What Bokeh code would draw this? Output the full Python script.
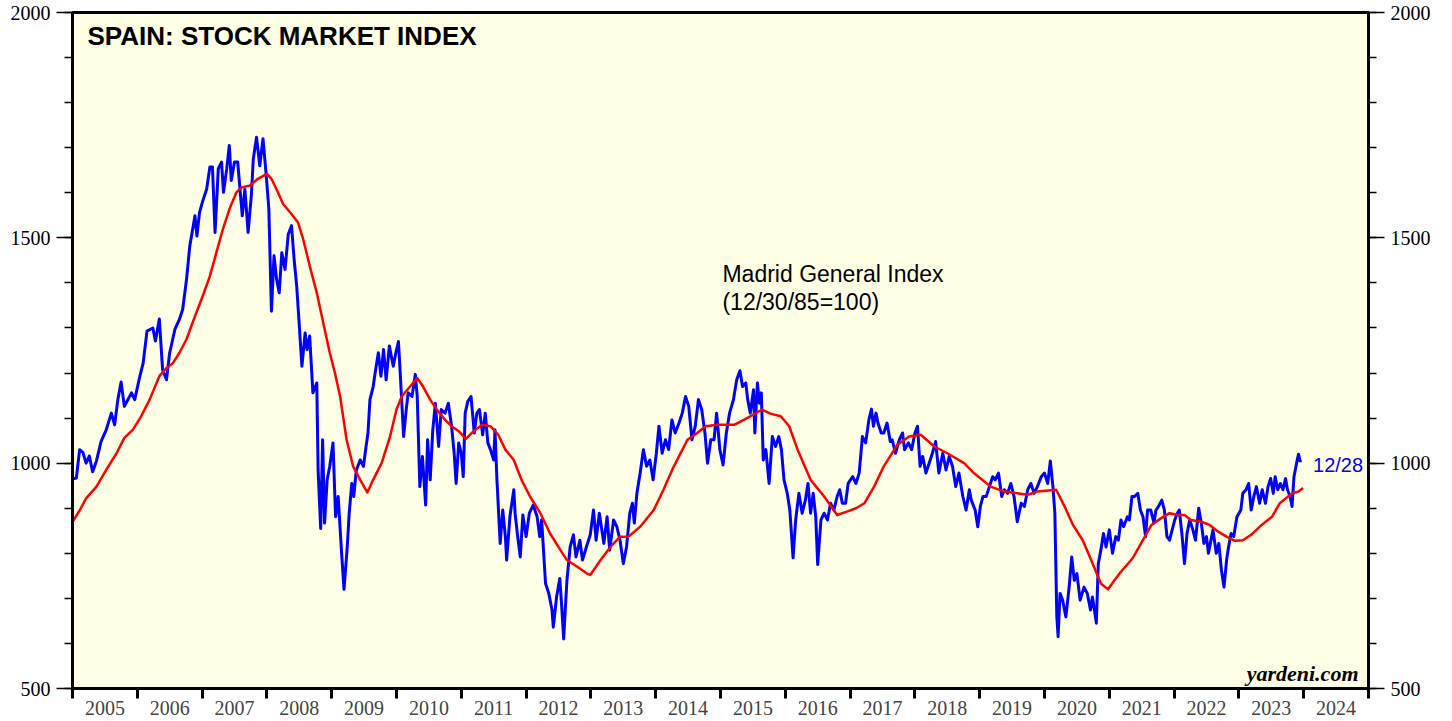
from bokeh.plotting import figure
from bokeh.models import (Range1d, LinearAxis, FixedTicker, Label, CustomJSTickFormatter,
                          ColumnDataSource)
from bokeh.embed import file_html
from bokeh.resources import INLINE

# ---------------- data ----------------
blue_years = [
 2005.00,2005.06,2005.11,2005.16,2005.21,2005.26,2005.31,2005.37,2005.44,2005.52,2005.60,2005.65,2005.70,2005.75,2005.80,2005.91,2005.96,
 2006.04,2006.09,2006.15,2006.24,2006.28,2006.34,2006.39,2006.45,2006.50,2006.58,2006.65,2006.70,2006.76,2006.81,2006.89,2006.92,2006.96,
 2007.01,2007.07,2007.12,2007.16,2007.20,2007.25,2007.30,2007.33,2007.38,2007.42,2007.45,2007.50,2007.55,2007.58,2007.62,2007.66,2007.71,2007.76,2007.79,2007.84,2007.89,2007.94,2007.99,
 2008.03,2008.07,2008.11,2008.15,2008.19,2008.23,2008.28,2008.33,2008.38,2008.42,2008.46,2008.50,2008.54,2008.59,2008.62,2008.66,2008.71,2008.77,2008.79,2008.83,2008.86,2008.89,2008.93,2008.97,
 2009.02,2009.06,2009.10,2009.15,2009.19,2009.24,2009.27,2009.31,2009.34,2009.38,2009.44,2009.49,2009.53,2009.56,2009.59,2009.64,2009.67,2009.72,2009.76,2009.80,2009.84,2009.89,2009.95,2009.99,
 2010.03,2010.06,2010.11,2010.15,2010.18,2010.24,2010.29,2010.32,2010.36,2010.40,2010.45,2010.48,2010.52,2010.56,2010.60,2010.65,2010.69,2010.75,2010.80,2010.85,2010.89,2010.92,2010.96,
 2011.00,2011.03,2011.06,2011.10,2011.15,2011.20,2011.24,2011.28,2011.33,2011.37,2011.41,2011.45,2011.50,2011.52,2011.55,2011.60,2011.64,2011.68,2011.70,2011.75,2011.81,2011.83,2011.87,2011.91,2011.95,
 2012.00,2012.05,2012.11,2012.17,2012.21,2012.24,2012.30,2012.35,2012.40,2012.42,2012.47,2012.52,2012.55,2012.58,2012.63,2012.68,2012.73,2012.77,2012.83,2012.87,2012.93,2012.99,
 2013.04,2013.08,2013.13,2013.20,2013.25,2013.29,2013.35,2013.40,2013.45,2013.50,2013.55,2013.60,2013.64,2013.67,2013.71,2013.76,2013.81,2013.86,2013.91,2013.96,
 2014.01,2014.05,2014.10,2014.15,2014.20,2014.25,2014.30,2014.36,2014.41,2014.46,2014.51,2014.56,2014.61,2014.66,2014.71,2014.76,2014.80,2014.85,2014.90,2014.94,2014.99,
 2015.04,2015.09,2015.14,2015.20,2015.25,2015.30,2015.34,2015.39,2015.42,2015.46,2015.51,2015.53,2015.57,2015.60,2015.63,2015.66,2015.70,2015.75,2015.80,2015.85,2015.90,2015.94,2015.98,
 2016.03,2016.07,2016.12,2016.16,2016.21,2016.26,2016.31,2016.35,2016.39,2016.43,2016.47,2016.50,2016.55,2016.60,2016.65,2016.70,2016.75,2016.80,2016.84,2016.88,2016.93,2016.97,
 2017.04,2017.09,2017.14,2017.19,2017.24,2017.29,2017.33,2017.36,2017.40,2017.43,2017.48,2017.52,2017.57,2017.62,2017.65,2017.70,2017.76,2017.81,2017.84,2017.90,2017.95,
 2018.00,2018.04,2018.08,2018.12,2018.17,2018.22,2018.27,2018.32,2018.37,2018.43,2018.48,2018.53,2018.58,2018.63,2018.68,2018.74,2018.79,2018.84,2018.87,2018.93,2018.97,
 2019.01,2019.05,2019.10,2019.15,2019.20,2019.24,2019.29,2019.34,2019.38,2019.43,2019.48,2019.53,2019.58,2019.64,2019.69,2019.74,2019.79,2019.84,2019.89,2019.95,
 2020.00,2020.05,2020.09,2020.13,2020.16,2020.19,2020.21,2020.24,2020.28,2020.33,2020.38,2020.42,2020.46,2020.50,2020.55,2020.61,2020.66,2020.71,2020.74,2020.80,2020.83,2020.87,2020.91,2020.95,
 2021.00,2021.05,2021.10,2021.14,2021.18,2021.22,2021.28,2021.31,2021.35,2021.39,2021.44,2021.48,2021.52,2021.56,2021.59,2021.64,2021.69,2021.72,2021.76,2021.81,2021.85,2021.89,2021.93,2021.97,
 2022.01,2022.05,2022.08,2022.12,2022.16,2022.20,2022.24,2022.29,2022.33,2022.38,2022.42,2022.46,2022.50,2022.53,2022.56,2022.60,2022.65,2022.69,2022.73,2022.77,2022.81,2022.84,2022.88,2022.92,2022.97,
 2023.03,2023.06,2023.11,2023.15,2023.19,2023.23,2023.27,2023.32,2023.36,2023.41,2023.45,2023.49,2023.53,2023.56,2023.60,2023.64,2023.68,2023.72,2023.75,2023.79,2023.82,2023.85,2023.89,2023.92,2023.95,2023.99,
]
blue_values = [
 965,967,1030,1024,1000,1016,981,1005,1048,1074,1111,1085,1141,1180,1126,1156,1141,
 1193,1222,1293,1300,1271,1320,1208,1185,1245,1297,1319,1341,1408,1482,1549,1504,1556,
 1582,1608,1657,1657,1512,1653,1668,1601,1653,1705,1627,1668,1668,1616,1549,1608,1512,1594,1675,1723,1660,1720,1638,
 1564,1337,1460,1408,1378,1467,1430,1508,1527,1452,1393,1305,1215,1289,1252,1282,1156,1178,985,855,1052,867,963,993,
 1045,881,926,807,720,814,889,955,926,985,1007,993,1037,1067,1141,1170,1200,1245,1193,1252,1185,1260,1215,1245,
 1270,1193,1059,1119,1156,1148,1197,1148,948,1015,907,1052,963,1074,1133,1037,1119,1111,1133,1082,1022,955,1045,
 1022,970,1111,1137,1148,1067,1111,1119,1063,1111,1045,1030,1007,1074,963,822,896,837,785,881,941,889,837,792,885,
 837,889,907,881,837,874,733,711,674,636,703,744,681,610,740,814,841,792,829,785,814,841,
 896,829,889,822,881,807,874,859,829,777,814,889,911,867,933,978,1030,993,1007,963,
 1022,1082,1022,1052,1030,1096,1067,1089,1111,1148,1126,1052,1082,1141,1119,1067,1000,1052,1052,1111,1030,
 996,1067,1111,1141,1185,1205,1170,1178,1141,1111,1163,1067,1178,1133,1156,1007,1030,955,1059,1037,1059,1030,963,
 933,896,790,874,933,889,918,955,889,933,881,775,874,889,874,911,896,926,941,911,911,955,
 970,955,978,1059,1045,1096,1120,1082,1111,1089,1067,1067,1089,1048,1052,1022,1052,1067,1030,1045,
 1030,1067,1082,993,1015,978,1000,1022,1048,978,1022,985,1015,993,948,978,926,896,941,918,896,
 859,904,926,926,948,970,963,978,926,941,933,955,926,870,911,904,941,955,933,948,
 970,978,955,1005,948,889,660,615,711,696,659,725,792,740,755,696,725,711,674,703,645,777,807,844,
 814,852,800,837,829,874,859,881,874,926,926,933,896,881,837,896,896,867,896,904,918,896,837,829,
 852,874,889,896,844,777,844,874,852,829,900,867,822,837,800,822,852,800,822,763,725,785,814,844,837,
 881,896,933,941,955,896,926,948,911,941,911,948,966,933,970,941,955,941,966,941,926,904,970,1000,1020,1002,
]

ma_years = [
 2005.00,2005.11,2005.21,2005.37,2005.52,2005.68,2005.80,2005.93,2006.06,2006.19,2006.34,2006.45,2006.55,2006.65,2006.76,2006.89,
 2007.01,2007.12,2007.22,2007.32,2007.43,2007.53,2007.61,2007.74,2007.86,2008.00,2008.07,2008.17,2008.25,2008.38,2008.48,2008.56,
 2008.66,2008.77,2008.87,2008.97,2009.05,2009.13,2009.23,2009.33,2009.44,2009.55,2009.64,2009.77,2009.90,2010.00,2010.08,2010.21,
 2010.32,2010.41,2010.52,2010.62,2010.75,2010.85,2010.96,2011.07,2011.19,2011.32,2011.45,2011.57,2011.68,2011.81,2011.93,2012.06,
 2012.22,2012.37,2012.53,2012.63,2012.79,2012.94,2012.99,2013.15,2013.30,2013.45,2013.58,2013.76,2013.97,2014.12,2014.28,2014.49,
 2014.64,2014.77,2014.95,2015.21,2015.36,2015.51,2015.64,2015.77,2015.93,2016.06,2016.19,2016.39,2016.60,2016.80,2016.96,2017.09,
 2017.22,2017.37,2017.52,2017.73,2017.91,2018.09,2018.30,2018.50,2018.76,2018.91,2019.17,2019.38,2019.58,2019.74,2019.89,2020.18,
 2020.31,2020.44,2020.59,2020.72,2020.87,2020.98,2021.10,2021.18,2021.36,2021.49,2021.65,2021.80,2021.93,2022.06,2022.16,2022.26,
 2022.42,2022.55,2022.68,2022.81,2022.93,2023.06,2023.19,2023.35,2023.51,2023.63,2023.82,2023.92,2023.99,
]
ma_values = [
 870,895,922,948,985,1022,1056,1074,1104,1141,1193,1211,1222,1245,1275,1326,
 1371,1415,1467,1519,1567,1601,1612,1616,1631,1642,1631,1601,1575,1553,1534,1497,
 1438,1378,1311,1245,1200,1148,1052,993,963,935,963,1000,1059,1119,1148,1170,
 1189,1170,1141,1119,1096,1082,1071,1054,1071,1085,1082,1063,1030,1007,963,926,
 889,844,807,785,770,755,752,785,814,837,837,859,896,941,993,1052,
 1067,1082,1085,1085,1096,1108,1119,1110,1104,1082,1030,963,926,885,893,900,
 911,948,993,1041,1059,1063,1037,1022,1000,978,948,937,933,930,937,941,
 904,863,829,785,733,720,744,759,789,822,863,878,889,885,885,874,
 870,863,848,837,828,829,841,863,881,911,933,937,945,
]

year_labels = [str(y) for y in range(2005, 2025)]
y_major = [500, 1000, 1500, 2000]
title_text = "SPAIN: STOCK MARKET INDEX"
series_note = "Madrid General Index\n(12/30/85=100)"
last_date_label = "12/28"
source_text = "yardeni.com"

# ---------------- figure ----------------
BG = "#FFFFE6"
p = figure(width=1452, height=721, output_backend="svg", toolbar_location=None,
           x_range=Range1d(2005, 2025), y_range=Range1d(500, 2000),
           min_border_left=72, min_border_right=84, min_border_top=12, min_border_bottom=33,
           background_fill_color=BG, border_fill_color="white",
           x_axis_location=None, y_axis_location=None)
p.xgrid.visible = False
p.ygrid.visible = False
p.outline_line_color = "black"
p.outline_line_width = 3

tick_font = "Liberation Serif"

def style_y(ax):
    ax.ticker = FixedTicker(ticks=y_major, minor_ticks=list(range(500, 2001, 100)))
    ax.axis_line_color = "black"
    ax.axis_line_width = 3
    ax.major_tick_in = 0
    ax.major_tick_out = 16
    ax.major_tick_line_width = 1.5
    ax.minor_tick_in = 0
    ax.minor_tick_out = 8
    ax.minor_tick_line_width = 1.5
    ax.major_label_text_font = tick_font
    ax.major_label_text_font_size = "20px"
    ax.major_label_text_color = "black"
    ax.major_label_standoff = 6

yl = LinearAxis()
style_y(yl)
p.add_layout(yl, "left")
yr = LinearAxis()
style_y(yr)
p.add_layout(yr, "right")

xa = LinearAxis()
xa.ticker = FixedTicker(ticks=[y + 0.5 for y in range(2005, 2025)],
                        minor_ticks=list(range(2005, 2026)))
xa.formatter = CustomJSTickFormatter(args=dict(labels=year_labels),
                                     code="return labels[Math.floor(index)];")
xa.axis_line_color = "black"
xa.axis_line_width = 3
xa.major_tick_in = 0
xa.major_tick_out = 0
xa.minor_tick_in = 0
xa.minor_tick_out = 10
xa.minor_tick_line_width = 3
xa.major_label_text_font = tick_font
xa.major_label_text_font_size = "20px"
xa.major_label_standoff = 2
p.add_layout(xa, "below")

# ---------------- series ----------------
src_b = ColumnDataSource(dict(x=blue_years, y=blue_values))
src_r = ColumnDataSource(dict(x=ma_years, y=ma_values))
p.line("x", "y", source=src_b, line_color="#0000FF", line_width=3, line_join="round")
p.line("x", "y", source=src_r, line_color="#FF0000", line_width=2.5, line_join="round")

# ---------------- annotations ----------------
p.add_layout(Label(x=2005, y=2000, x_offset=15, y_offset=-8, text=title_text,
                   text_font="Liberation Sans", text_font_style="bold", text_font_size="26px",
                   text_color="black", text_baseline="top"))

p.add_layout(Label(x=2015.03, y=1448, text=series_note,
                   text_font="Liberation Sans", text_font_size="23px",
                   text_color="black", text_baseline="top", text_line_height=1.05))

p.add_layout(Label(x=blue_years[-1], y=blue_values[-1], x_offset=10, y_offset=-3, text=last_date_label,
                   text_font="Liberation Sans", text_font_size="20px",
                   text_color="#0000FF", text_baseline="middle"))

p.add_layout(Label(x=2025, y=500, x_offset=-10, y_offset=15, text=source_text, text_align="right",
                   text_font="Liberation Serif", text_font_style="bold italic", text_font_size="22px",
                   text_color="black", text_baseline="alphabetic"))

open("out.html", "w").write(file_html(p, INLINE))
